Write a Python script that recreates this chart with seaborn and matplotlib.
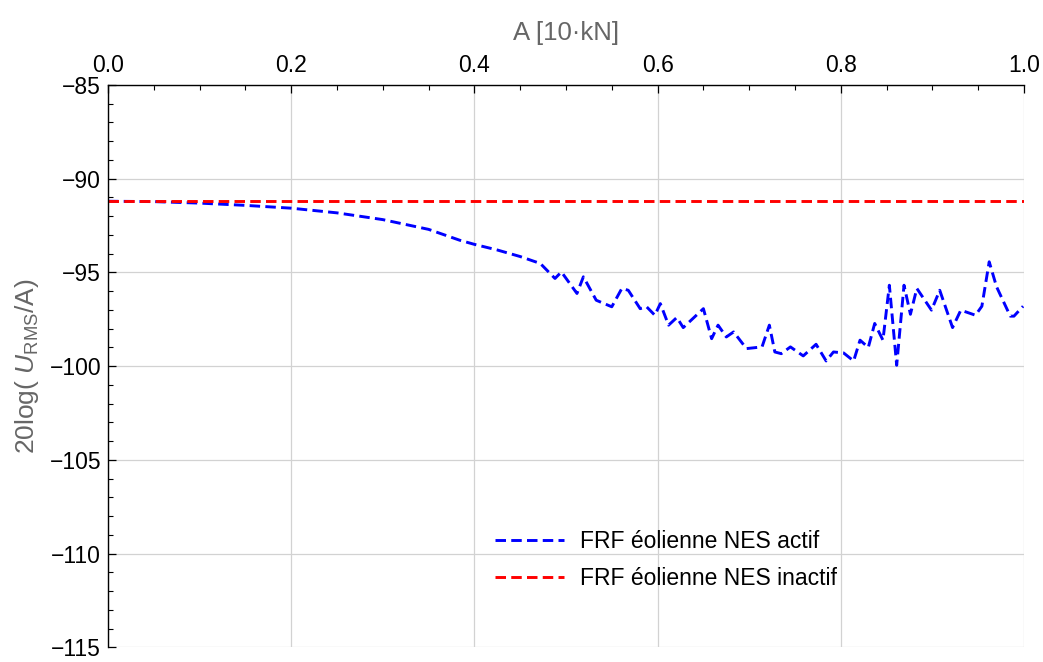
import numpy as np
import pandas as pd
import seaborn as sns
import matplotlib.pyplot as plt
from matplotlib.ticker import MultipleLocator

# blue curve: NES active
x_actif = [0.0, 0.05, 0.10, 0.15, 0.20, 0.25, 0.30, 0.35, 0.384, 0.40, 0.425, 0.45,
           0.472, 0.488, 0.495, 0.512, 0.519, 0.533, 0.550, 0.561, 0.568, 0.581,
           0.588, 0.597, 0.603, 0.612, 0.621, 0.628, 0.650, 0.659, 0.666, 0.675,
           0.683, 0.697, 0.714, 0.722, 0.728, 0.735, 0.745, 0.759, 0.773, 0.784,
           0.792, 0.803, 0.814, 0.821, 0.830, 0.837, 0.846, 0.853, 0.861, 0.869,
           0.876, 0.883, 0.899, 0.908, 0.922, 0.931, 0.947, 0.954, 0.962, 0.970,
           0.985, 0.989, 0.999]
y_actif = [-91.20, -91.22, -91.30, -91.42, -91.57, -91.82, -92.18, -92.70, -93.28, -93.50, -93.80, -94.15,
           -94.52, -95.32, -94.97, -96.12, -95.23, -96.48, -96.83, -95.85, -95.95, -96.93,
           -96.83, -97.28, -96.66, -97.81, -97.40, -97.94, -96.93, -98.53, -97.81, -98.44,
           -98.17, -99.06, -98.97, -97.81, -99.24, -99.33, -98.97, -99.45, -98.83, -99.72,
           -99.24, -99.29, -99.72, -98.61, -99.00, -97.72, -98.61, -95.68, -99.95, -95.68,
           -97.23, -95.85, -97.01, -95.95, -97.94, -97.01, -97.28, -96.80, -94.43, -95.76,
           -97.33, -97.33, -96.80]

# red line: NES inactive
x_inactif = [0.0, 1.0]
y_inactif = [-91.2, -91.2]

label_actif = "FRF éolienne NES actif"
label_inactif = "FRF éolienne NES inactif"

sns.set_style("white")
plt.rcParams["font.family"] = ["Liberation Sans", "DejaVu Sans"]
plt.rcParams["mathtext.fontset"] = "custom"
plt.rcParams["mathtext.rm"] = "Liberation Sans"
plt.rcParams["mathtext.it"] = "Liberation Sans:italic"
plt.rcParams["text.color"] = "black"
plt.rcParams["xtick.color"] = "black"
plt.rcParams["ytick.color"] = "black"

fig, ax = plt.subplots(figsize=(10.43, 6.62), dpi=100)
fig.subplots_adjust(left=0.1035, right=0.9818, top=0.8716, bottom=0.022)

df_a = pd.DataFrame({"x": x_actif, "y": y_actif})
df_i = pd.DataFrame({"x": x_inactif, "y": y_inactif})

sns.lineplot(x="x", y="y", data=df_a, ax=ax, color="#0000ff", lw=2.1,
             linestyle=(0, (3.6, 1.8)), sort=False, estimator=None, label=label_actif)
sns.lineplot(x="x", y="y", data=df_i, ax=ax, color="#ff0000", lw=2.1,
             linestyle=(0, (3.6, 1.8)), sort=False, estimator=None, label=label_inactif)

ax.set_xlim(0.0, 1.0)
ax.set_ylim(-115, -85)

ax.xaxis.set_major_locator(MultipleLocator(0.2))
ax.xaxis.set_minor_locator(MultipleLocator(0.05))
ax.yaxis.set_major_locator(MultipleLocator(5))
ax.yaxis.set_minor_locator(MultipleLocator(1))
ax.xaxis.set_major_formatter(plt.FormatStrFormatter("%.1f"))

ax.xaxis.tick_top()
ax.xaxis.set_label_position("top")
ax.tick_params(axis="both", which="major", direction="in", length=6, width=0.9,
               labelsize=16.5, color="black", labelcolor="black")
ax.tick_params(axis="both", which="minor", direction="in", length=3.5, width=0.8,
               color="black")
ax.tick_params(axis="x", which="both", top=True, bottom=False, pad=6)
ax.tick_params(axis="y", which="both", left=True, right=False, pad=5)

for side in ["bottom", "right"]:
    ax.spines[side].set_visible(False)
for side in ["top", "left"]:
    ax.spines[side].set_color("black")
    ax.spines[side].set_linewidth(1.0)

ax.grid(True, which="major", color="#d2d2d2", linewidth=0.9)
ax.set_axisbelow(True)

ax.set_xlabel("A [10·kN]", fontsize=18.5, color="#666666", labelpad=10)
ax.set_ylabel(r"20log( $U_{\mathrm{RMS}}$/A)", fontsize=19, color="#666666", labelpad=6)

leg = ax.legend(loc="upper left", bbox_to_anchor=(0.4, 0.245), frameon=False,
                fontsize=16.5, handlelength=3.0, handletextpad=0.7, labelspacing=0.6)
for t in leg.get_texts():
    t.set_color("black")

fig.savefig("out.png", dpi=100)
